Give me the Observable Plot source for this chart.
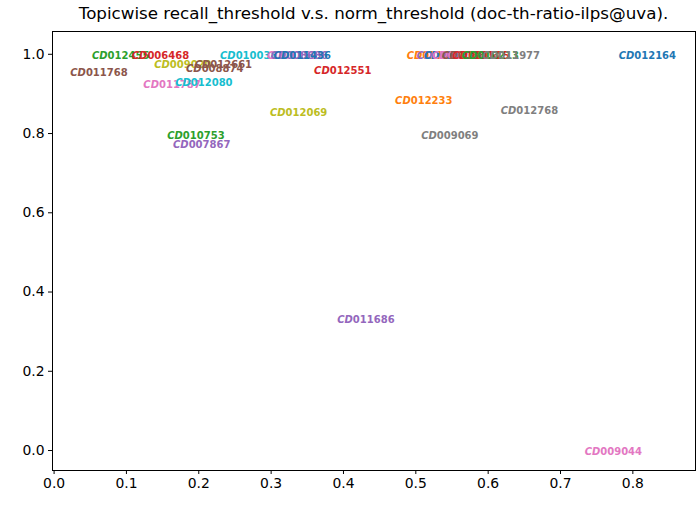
<!DOCTYPE html>
<html>
<head>
<meta charset="utf-8">
<script src="https://cdn.jsdelivr.net/npm/d3@7"></script>
<script src="https://cdn.jsdelivr.net/npm/@observablehq/plot@0.6"></script>
<style>
  body { margin: 0; background: white; font-family: "DejaVu Sans", sans-serif; }
  #title { height: 30px; width: 643px; padding-left: 52px; text-align: center; font-size: 16.7px; line-height: 27px; color: #000; white-space: nowrap; }
</style>
</head>
<body>
<div id="title">Topicwise recall_threshold v.s. norm_threshold (doc-th-ratio-ilps@uva).</div>
<div id="chart"></div>
<script>
const topics = ["CD012164","CD009044","CD011686","CD012768","CD009069","CD012233","CD012069","CD012551",
  "CD010753","CD007867","CD011768","CD012455","CD006468","CD009020","CD012661","CD008874",
  "CD011787","CD012080","CD010038","CD012599","CD008686","CD011436",
  "CD011420","CD010502","CD011571","CD012342","CD008803","CD011515","CD010213","CD011977"];
const normThreshold = [0.820,0.773,0.431,0.657,0.547,0.511,0.338,0.399,
  0.196,0.204,0.062,0.092,0.147,0.178,0.234,0.222,
  0.163,0.207,0.269,0.334,0.339,0.343,
  0.527,0.541,0.551,0.562,0.576,0.590,0.603,0.632];
const recallThreshold = [1.0,0.0,0.333,0.862,0.799,0.887,0.855,0.963,
  0.799,0.776,0.958,1.0,1.0,0.978,0.978,0.968,
  0.928,0.933,1.0,1.0,1.0,1.0,
  1.0,1.0,1.0,1.0,1.0,1.0,1.0,1.0];
const colors = ["#1f77b4","#e377c2","#9467bd","#7f7f7f","#7f7f7f","#ff7f0e","#bcbd22","#d62728",
  "#2ca02c","#9467bd","#8c564b","#2ca02c","#d62728","#bcbd22","#8c564b","#8c564b",
  "#e377c2","#17becf","#17becf","#e377c2","#9467bd","#1f77b4",
  "#ff7f0e","#9467bd","#1f77b4","#e377c2","#8c564b","#d62728","#2ca02c","#7f7f7f"];
const xTicks = [0,0.1,0.2,0.3,0.4,0.5,0.6,0.7,0.8];
const yTicks = [0,0.2,0.4,0.6,0.8,1.0];

const data = topics.map((t, i) => ({topic: t, x: normThreshold[i], y: recallThreshold[i], color: colors[i]}));

const chart = Plot.plot({
  width: 696,
  height: 476,
  marginLeft: 52,
  marginRight: 1,
  marginTop: 1,
  marginBottom: 36,
  style: {fontFamily: "DejaVu Sans", fontSize: "13.9px", background: "white", color: "black"},
  x: {domain: [-0.0022, 0.8866]},
  y: {domain: [-0.0504, 1.0575]},
  color: {type: "identity"},
  marks: [
    Plot.axisX({ticks: xTicks, tickFormat: d3.format(".1f"), tickSize: 4, tickPadding: 4, label: null, fontSize: 13.9}),
    Plot.axisY({ticks: yTicks, tickFormat: d3.format(".1f"), tickSize: 4, tickPadding: 4, label: null, fontSize: 13.9}),
    Plot.text(data, {x: "x", y: "y", text: "topic", fill: "color", fontSize: 10, fontWeight: "bold", textAnchor: "middle", lineAnchor: "middle", dy: 1.5, fontFamily: "DejaVu Sans"}),
    Plot.frame({stroke: "black", strokeWidth: 1})
  ]
});
document.getElementById("chart").appendChild(chart);

chart.querySelectorAll('g[aria-label="text"] text').forEach(t => {
  const s = t.textContent;
  if (s.startsWith("CD")) {
    t.textContent = "";
    const a = document.createElementNS("http://www.w3.org/2000/svg", "tspan");
    a.setAttribute("font-style", "italic");
    a.textContent = "CD";
    const b = document.createElementNS("http://www.w3.org/2000/svg", "tspan");
    b.textContent = s.slice(2);
    t.appendChild(a);
    t.appendChild(b);
  }
});
</script>
</body>
</html>
